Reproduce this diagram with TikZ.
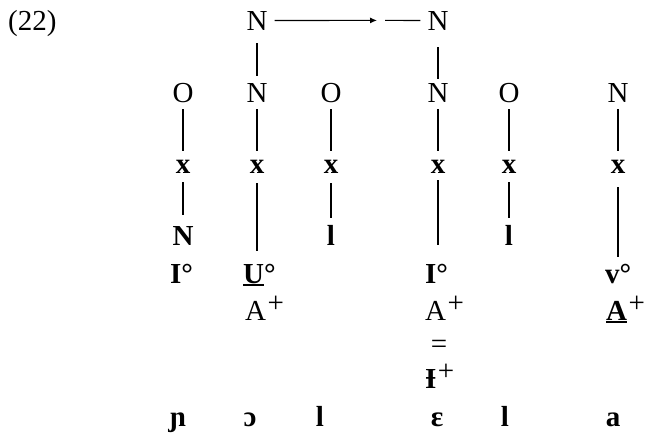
\documentclass[tikz,border=0pt]{standalone}
\usepackage{fontspec}
\setmainfont{Liberation Serif}
\usetikzlibrary{arrows.meta}
% raised plus sign, kept at full size
\newcommand\supplus{\kern1.5pt\raisebox{8pt}{\mdseries +}}
% letter with a heavy rule underneath
\newcommand\ulbar[1]{\setbox0\hbox{#1}\rlap{\raisebox{-2.5pt}{\rule{\wd0}{1.6pt}}}\box0}
\begin{document}
\begin{tikzpicture}[x=1pt,y=-1pt,
  lab/.style={inner sep=0pt,anchor=base,font=\fontsize{29}{32}\selectfont},
  labb/.style={inner sep=0pt,anchor=base,font=\fontsize{29}{32}\selectfont\bfseries},
  assoc/.style={line width=1.3pt},
  rowlink/.style={assoc,shorten <=7pt,shorten >=8pt},
]
\useasboundingbox (0,0) rectangle (649,432);

\node[lab,anchor=base west] (num) at (8,30) {(22)};

% top tier
\node[lab] (Ntl) at (257,30) {N};
\node[lab] (Ntr) at (438,30) {N};
\coordinate (tipA) at (377,20.4);
\coordinate (tailB) at (385,20.4);

% constituent tier
\node[lab] (O1) at (183,102) {O};
\node[lab] (N2) at (257,102) {N};
\node[lab] (O3) at (331,102) {O};
\node[lab] (N4) at (438,102) {N};
\node[lab] (O5) at (509,102) {O};
\node[lab] (N6) at (618,102) {N};

% skeletal tier
\node[labb] (x1) at (183,173) {x};
\node[labb] (x2) at (257,173) {x};
\node[labb] (x3) at (331,173) {x};
\node[labb] (x4) at (438,173) {x};
\node[labb] (x5) at (509,173) {x};
\node[labb] (x6) at (618,173) {x};

% melodic content
\node[labb] (M1) at (183,245) {N};
\node[labb] (L3) at (331,245) {l};
\node[labb] (L5) at (509,245) {l};

\node[labb,anchor=base west] (I1) at (170,283) {I°};
\node[labb,anchor=base west] (U2) at (243,283) {\ulbar{U}°};
\node[labb,anchor=base west] (I4) at (425,283) {I°};
\node[labb,anchor=base west] (V6) at (605,283) {v°};

\node[lab,anchor=base west] (A2) at (245,320) {A\supplus};
\node[lab,anchor=base west] (A4) at (425,320) {A\supplus};
\node[labb,anchor=base west] (A6) at (606,320) {\ulbar{A}\supplus};

\node[lab] (eq4) at (439,353) {=};
\node[labb,anchor=base west] (Ib4) at (425,388) {Ɨ\supplus};

% phonetic output
\node[labb] (p1) at (178,426) {ɲ};
\node[labb] (p2) at (250,426) {ɔ};
\node[labb] (p3) at (320,426) {l};
\node[labb] (p4) at (437,426) {ɛ};
\node[labb] (p5) at (505,426) {l};
\node[labb] (p6) at (613,426) {a};

% head-to-head relation
\draw[line width=1.1pt,-{Latex[length=7pt,width=6pt]},shorten <=7pt] (Ntl.east) -- (tipA);
\draw[line width=1.1pt,shorten >=7pt] (tailB) -- (Ntr.west);
\draw[assoc,shorten <=13pt,shorten >=7pt] (Ntl.south) -- (N2.north);
\draw[assoc,shorten <=17pt,shorten >=4pt] (Ntr.south) -- (N4.north);

% constituents to skeletal points
\draw[rowlink] (O1.south) -- (x1.north);
\draw[rowlink] (N2.south) -- (x2.north);
\draw[rowlink] (O3.south) -- (x3.north);
\draw[rowlink] (N4.south) -- (x4.north);
\draw[rowlink] (O5.south) -- (x5.north);
\draw[rowlink] (N6.south) -- (x6.north);

% skeletal points to melody
\draw[assoc,shorten <=9pt,shorten >=11pt] (x1.south) -- (M1.north);
\draw[assoc,shorten <=10pt,shorten >=13pt] (x2.south) -- (x2 |- U2.north);
\draw[assoc,shorten <=10pt,shorten >=7pt] (x3.south) -- (L3.north);
\draw[assoc,shorten <=7pt,shorten >=19pt] (x4.south) -- (x4 |- I4.north);
\draw[assoc,shorten <=9pt,shorten >=7pt] (x5.south) -- (L5.north);
\draw[assoc,shorten <=14pt,shorten >=7pt] (x6.south) -- (x6 |- V6.north);
\end{tikzpicture}
\end{document}
